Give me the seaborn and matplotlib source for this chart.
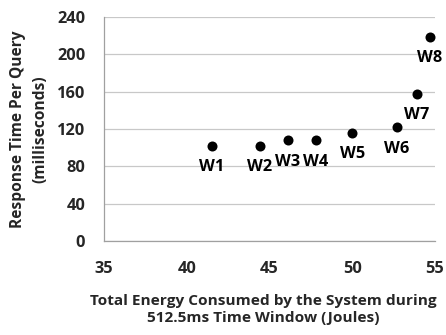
import matplotlib
matplotlib.use("Agg")
import matplotlib.pyplot as plt
import seaborn as sns
import pandas as pd

labels = ["W1", "W2", "W3", "W4", "W5", "W6", "W7", "W8"]
energy = [41.5, 44.4, 46.1, 47.8, 50.0, 52.7, 53.9, 54.7]
response = [102, 102, 108, 108, 116, 122, 158, 219]
x_ticks = [35, 40, 45, 50, 55]
y_ticks = [0, 40, 80, 120, 160, 200, 240]

sns.set_theme(style="white")
plt.rcParams['font.family'] = ['Open Sans', 'DejaVu Sans']
plt.rcParams['font.weight'] = 'bold'

df = pd.DataFrame({"energy": energy, "response": response, "label": labels})

fig = plt.figure(figsize=(4.46, 3.35), dpi=100)
ax = fig.add_axes([104/446, 1-241/335, (435-104)/446, (241-17)/335])

sns.scatterplot(data=df, x="energy", y="response", ax=ax, color="black",
                s=52, edgecolor="black", linewidth=0, zorder=3, clip_on=False)

for _, r in df.iterrows():
    ax.annotate(r["label"], (r["energy"], r["response"]), xytext=(0, -15.5),
                textcoords="offset points", ha="center", va="center",
                fontsize=11.8, fontweight="bold", color="black")

ax.set_xlim(35, 55)
ax.set_ylim(0, 240)
ax.set_xticks(x_ticks)
ax.set_yticks(y_ticks)
ax.set_xticklabels([str(t) for t in x_ticks], fontsize=11.8, fontweight="bold")
ax.set_yticklabels([str(t) for t in y_ticks], fontsize=11.8, fontweight="bold")
ax.yaxis.grid(True, color="#c8c8c8", linewidth=0.9)
ax.xaxis.grid(False)
for s in ["top", "right"]:
    ax.spines[s].set_visible(False)
for s in ["bottom", "left"]:
    ax.spines[s].set_color("#a0a0a0")
    ax.spines[s].set_linewidth(0.9)
ax.tick_params(axis="x", direction="out", length=4.5, width=0.9, color="#a0a0a0", pad=10)
ax.tick_params(axis="y", direction="out", length=4.5, width=0.9, color="#c8c8c8", pad=9)

ax.set_xlabel("Total Energy Consumed by the System during\n512.5ms Time Window (Joules)",
              fontsize=11.1, fontweight="bold", labelpad=12.5, linespacing=1.2)
ax.xaxis.label.set_x(0.48)
ax.set_ylabel("Response Time Per Query\n(milliseconds)", fontsize=11.2,
              fontweight="bold", labelpad=6, linespacing=1.55)

fig.savefig("out.png", dpi=100)
